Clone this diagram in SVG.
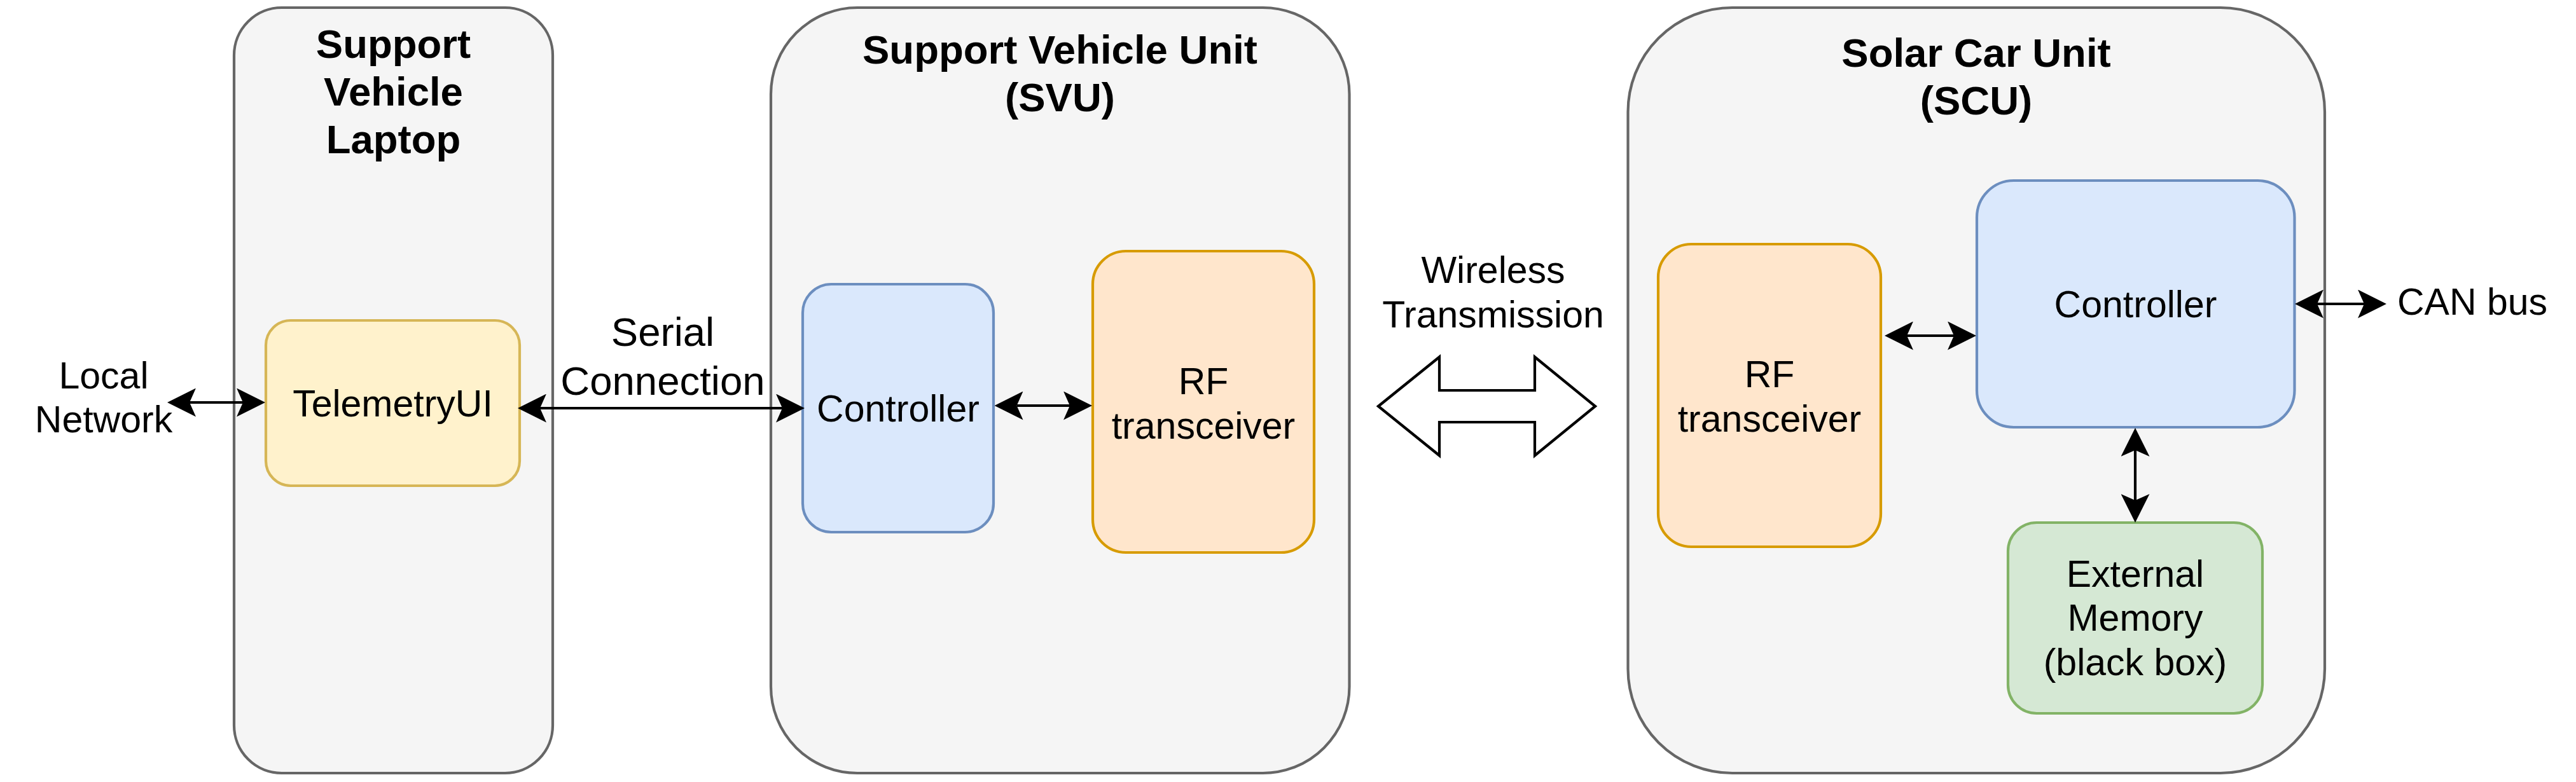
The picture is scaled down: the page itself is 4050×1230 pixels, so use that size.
<svg xmlns="http://www.w3.org/2000/svg" width="4050" height="1230" viewBox="0 0 4050 1230">
<defs>
<style>
.txt{font-family:"Liberation Sans",Arial,Helvetica,sans-serif;font-size:59px;fill:#000;text-anchor:middle}
.ttl{font-family:"Liberation Sans",Arial,Helvetica,sans-serif;font-size:63.5px;font-weight:bold;fill:#000;text-anchor:middle}
.big{font-size:63.5px}
.cont{fill:#f5f5f5;stroke:#666666;stroke-width:4.2}
.yel{fill:#fff2cc;stroke:#d6b656;stroke-width:4.2}
.blu{fill:#dae8fc;stroke:#6c8ebf;stroke-width:4.2}
.org{fill:#ffe6cc;stroke:#d79b00;stroke-width:4.2}
.grn{fill:#d5e8d4;stroke:#82b366;stroke-width:4.2}
.edge{fill:none;stroke:#000;stroke-width:4.2;marker-start:url(#ah);marker-end:url(#ah)}
</style>
<marker id="ah" viewBox="0 0 45 45" refX="10" refY="22.5" markerWidth="45" markerHeight="45" markerUnits="userSpaceOnUse" orient="auto-start-reverse">
<path d="M0,0 L45,22.5 L0,45 L10,22.5 Z" fill="#000"/>
</marker>
</defs>
<rect width="4050" height="1230" fill="#ffffff"/>

<g id="laptop">
<rect class="cont" x="368" y="12" width="501" height="1204" rx="75" ry="75"/>
<text class="ttl" x="618.5" y="91">Support</text>
<text class="ttl" x="618.5" y="166">Vehicle</text>
<text class="ttl" x="618.5" y="241">Laptop</text>
</g>

<g id="svu">
<rect class="cont" x="1212" y="12" width="909.5" height="1204" rx="136" ry="136"/>
<text class="ttl" x="1666.5" y="100">Support Vehicle Unit</text>
<text class="ttl" x="1666.5" y="175">(SVU)</text>
</g>

<g id="scu">
<rect class="cont" x="2559.5" y="12" width="1095.5" height="1204" rx="164" ry="164"/>
<text class="ttl" x="3107" y="105">Solar Car Unit</text>
<text class="ttl" x="3107" y="180">(SCU)</text>
</g>

<g id="telemetry">
<rect class="yel" x="418" y="504" width="399" height="260" rx="39" ry="39"/>
<text class="txt" x="617.5" y="655">TelemetryUI</text>
</g>

<g id="svu-controller">
<rect class="blu" x="1262" y="447" width="300" height="390" rx="45" ry="45"/>
<text class="txt" x="1412" y="663">Controller</text>
</g>

<g id="svu-rf">
<rect class="org" x="1718" y="395" width="348" height="474" rx="52" ry="52"/>
<text class="txt" x="1892" y="620">RF</text>
<text class="txt" x="1892" y="690">transceiver</text>
</g>

<g id="scu-rf">
<rect class="org" x="2607" y="384" width="350" height="476" rx="52" ry="52"/>
<text class="txt" x="2782" y="609">RF</text>
<text class="txt" x="2782" y="679">transceiver</text>
</g>

<g id="scu-controller">
<rect class="blu" x="3108" y="284" width="499.5" height="388" rx="58" ry="58"/>
<text class="txt" x="3357.5" y="499">Controller</text>
</g>

<g id="memory">
<rect class="grn" x="3157" y="822" width="400" height="300" rx="45" ry="45"/>
<text class="txt" x="3357" y="923">External</text>
<text class="txt" x="3357" y="992">Memory</text>
<text class="txt" x="3357" y="1062">(black box)</text>
</g>

<g id="wireless">
<polygon points="2167,639 2263,561.5 2263,614 2413,614 2413,561.5 2508,639 2413,716.5 2413,664 2263,664 2263,716.5" fill="#ffffff" stroke="#000000" stroke-width="4.2"/>
<text class="txt" x="2347.5" y="445">Wireless</text>
<text class="txt" x="2347.5" y="515">Transmission</text>
</g>

<g id="local-network-label">
<text class="txt" x="163" y="611">Local</text>
<text class="txt" x="163" y="680">Network</text>
</g>

<g id="can-bus-label">
<text class="txt" x="3769" y="495" style="text-anchor:start">CAN bus</text>
</g>

<g id="connectors">
<line class="edge" x1="298" y1="633" x2="382" y2="633"/>
<line class="edge" x1="849" y1="642" x2="1230" y2="642"/>
<text class="txt big" x="1042" y="544">Serial</text>
<text class="txt big" x="1042" y="620.5">Connection</text>
<line class="edge" x1="1598.5" y1="638" x2="1682" y2="638"/>
<line class="edge" x1="2998" y1="528" x2="3072" y2="528"/>
<line class="edge" x1="3643" y1="478" x2="3717" y2="478"/>
<line class="edge" x1="3357" y1="708" x2="3357" y2="787"/>
</g>
</svg>
